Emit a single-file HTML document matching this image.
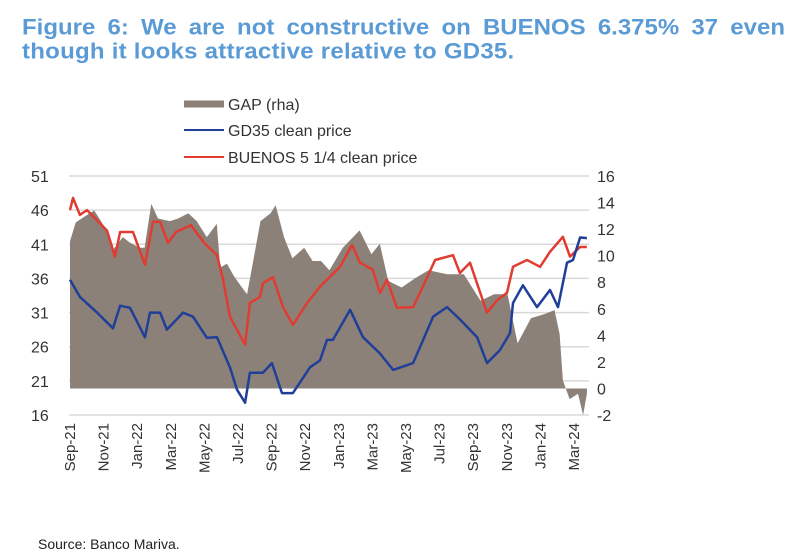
<!DOCTYPE html>
<html><head><meta charset="utf-8"><style>
body{margin:0;background:#fff;width:800px;height:557px;overflow:hidden;font-family:"Liberation Sans",Arial,sans-serif}
.t{position:absolute;left:22px;color:#5b9bd5;font-weight:bold;font-size:24px;line-height:26px;white-space:nowrap;transform-origin:0 0;transform:scaleY(0.92)}
</style></head><body>
<div class="t" style="top:16px;width:763px;text-align:justify;text-align-last:justify;white-space:normal">Figure 6: We are not constructive on BUENOS 6.375% 37 even</div>
<div class="t" style="top:40px;letter-spacing:0.25px">though it looks attractive relative to GD35.</div>
<svg width="800" height="557" style="position:absolute;left:0;top:0" id="chart"></svg>
<div style="position:absolute;left:38px;top:536px;font-size:14px;color:#222">Source: Banco Mariva.</div>
<script>
const gdT=[0.06,0.65,1.67,2.62,3.04,3.63,4.52,4.82,5.42,5.83,6.79,7.38,8.21,8.81,9.58,10,10.48,10.77,11.55,12.08,12.68,13.33,14.35,14.94,15.36,15.71,16.73,17.5,18.51,19.29,20.48,21.67,22.5,23.27,24.29,24.88,25.65,26.25,26.43,27.02,27.86,28.63,29.11,29.64,30,30.42,30.83];
const gdV=[35.8,33.3,31,28.7,32,31.7,27.4,31,31,28.5,31,30.4,27.3,27.4,23,19.7,17.8,22.2,22.2,23.6,19.2,19.2,23,24,27,27,31.4,27.4,25,22.6,23.6,30.4,31.8,30,27.4,23.6,25.5,28,32.4,35,31.8,34.3,31.8,38.3,38.7,42,41.9];
const buT=[0.06,0.24,0.65,1.07,1.67,2.26,2.74,3.04,3.81,4.52,5.0,5.42,5.89,6.37,7.26,8.04,8.81,9.17,9.58,10.48,10.77,11.37,11.55,12.14,12.74,13.33,14.17,14.94,16.13,16.85,17.32,18.08,18.51,18.93,19.52,20.48,20.89,21.79,22.86,23.27,23.87,24.88,25.48,26.07,26.43,27.26,28.04,28.63,29.40,29.82,30.42,30.83];
const buV=[46,47.8,45.3,46,44.5,43,39.2,42.8,42.8,38,44.3,44.3,41.2,42.8,43.8,41.2,39.4,35.8,30.4,26.3,32.4,33.3,35.3,36.2,31.8,29.2,32.4,34.8,37.7,40.9,38.3,37.3,33.9,35.8,31.7,31.8,33.9,38.7,39.4,36.8,38.3,31,32.8,33.9,37.7,38.7,37.7,39.9,42.1,39.2,40.6,40.6];
const gapT=[0.06,0.4,1.0,1.5,2.2,2.6,3.2,3.6,4.2,4.5,4.9,5.3,6.0,6.5,7.1,7.6,8.2,8.8,9.0,9.4,9.8,10.3,10.6,11.4,12.0,12.3,12.8,13.3,14.0,14.5,15.0,15.5,16.3,17.3,18.0,18.5,19.0,19.8,20.6,21.4,22.5,23.5,24.5,25.3,26.1,26.7,27.5,28.3,28.9,29.2,29.4,29.8,30.3,30.6,30.83];
const gapV=[11.1,12.5,13.0,13.4,12.0,10.4,11.4,11.0,10.6,10.6,13.9,12.8,12.6,12.8,13.2,12.6,11.4,12.4,9.1,9.4,8.5,7.6,7.1,12.6,13.2,13.8,11.4,9.8,10.6,9.6,9.6,8.9,10.6,11.9,10.1,10.9,8.1,7.6,8.3,8.9,8.6,8.6,6.6,7.1,7.1,3.4,5.3,5.6,5.9,4.1,0.6,-0.8,-0.4,-2,-0.4];
const xLabels=["Sep-21","Nov-21","Jan-22","Mar-22","May-22","Jul-22","Sep-22","Nov-22","Jan-23","Mar-23","May-23","Jul-23","Sep-23","Nov-23","Jan-24","Mar-24"];
const leftTicks=[16,21,26,31,36,41,46,51];
const rightTicks=[-2,0,2,4,6,8,10,12,14,16];

const NS="http://www.w3.org/2000/svg",svg=document.getElementById('chart');
const X0=69,XM=16.8,YT=176,YB=415;
const x=t=>X0+t*XM;
const yL=v=>YB-(v-16)/35*(YB-YT);
const yR=v=>YB-(v+2)/18*(YB-YT);
function mk(tag,a){const e=document.createElementNS(NS,tag);for(const k in a)e.setAttribute(k,a[k]);svg.appendChild(e);return e;}
leftTicks.forEach(v=>{
  const g=mk('line',{x1:X0,x2:589,y1:yL(v),y2:yL(v),stroke:'#d9d9d9','stroke-width':1.5});
  
  
  const tx=mk('text',{x:31,y:yL(v)+6,'font-size':16,fill:'#333','font-family':'Liberation Sans, sans-serif'});
  tx.textContent=v;
  
  
});
rightTicks.forEach(v=>{
  const tx=mk('text',{x:597,y:yR(v)+6,'font-size':16,fill:'#333','font-family':'Liberation Sans, sans-serif'});
  tx.textContent=v;
  
  
});
let d='M'+x(gapT[0])+','+yR(0);
gapT.forEach((t,i)=>{d+=' L'+x(t).toFixed(1)+','+yR(gapV[i]).toFixed(1);});
d+=' L'+x(gapT[gapT.length-1])+','+yR(0)+' Z';
const area=mk('path',{d:d,fill:'#8c8178'});


function line(T,V,c,name){
  const p=mk('polyline',{points:T.map((t,i)=>x(t).toFixed(1)+','+yL(V[i]).toFixed(1)).join(' '),fill:'none',stroke:c,'stroke-width':2.5,'stroke-linejoin':'round'});
  
  
}
line(buT,buV,'#e03c31','buenos-line');
line(gdT,gdV,'#1f3f99','gd35-line');
xLabels.forEach((l,i)=>{
  const xx=x(i*2)+6;
  const tx=mk('text',{x:0,y:0,transform:'translate('+xx+',423) rotate(-90)','text-anchor':'end','font-size':15,fill:'#333','font-family':'Liberation Sans, sans-serif'});
  tx.textContent=l;
  
  
});
const leg=[['GAP (rha)','#8c8178',7,104],['GD35 clean price','#1f3f99',2,130],['BUENOS 5 1/4 clean price','#e03c31',2,157]];
leg.forEach(L=>{
  const s=mk('rect',{x:184,y:L[3]-L[2]/2,width:40,height:L[2],fill:L[1]});
  
  
  const tx=mk('text',{x:228,y:L[3]+6,'font-size':16,fill:'#333','font-family':'Liberation Sans, sans-serif'});
  tx.textContent=L[0];
  
  
});
</script>
</body></html>
